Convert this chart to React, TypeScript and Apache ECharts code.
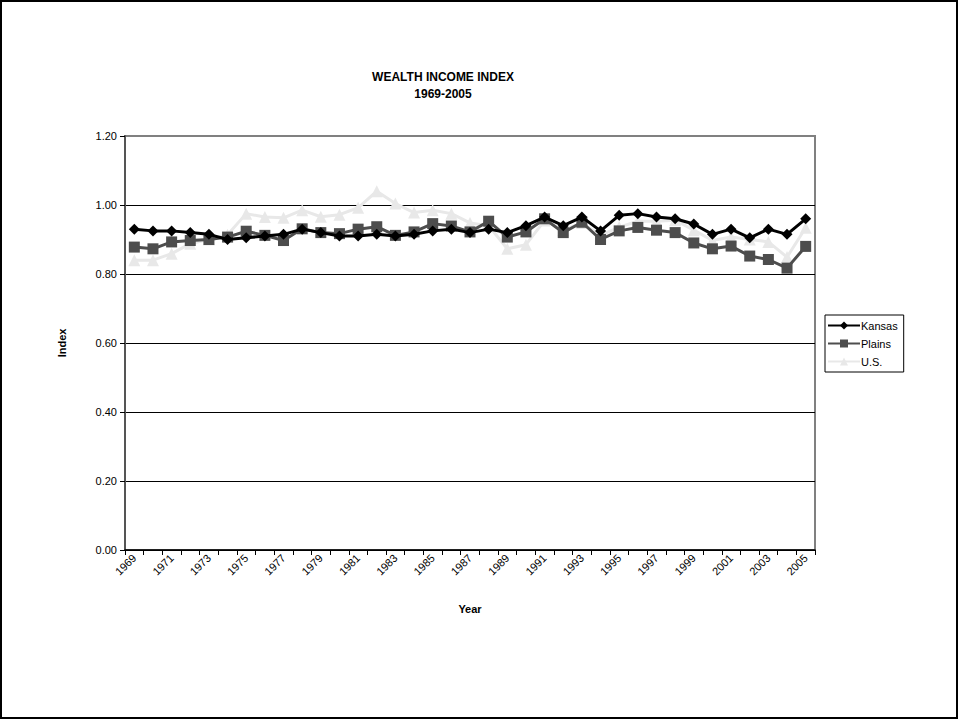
import React, { useEffect, useRef } from "react";
import * as echarts from "echarts";

const years = [
  "1969","1970","1971","1972","1973","1974","1975","1976","1977","1978",
  "1979","1980","1981","1982","1983","1984","1985","1986","1987","1988",
  "1989","1990","1991","1992","1993","1994","1995","1996","1997","1998",
  "1999","2000","2001","2002","2003","2004","2005",
];

const kansas = [
  0.93, 0.925, 0.925, 0.92, 0.915, 0.90, 0.905, 0.91, 0.915, 0.93,
  0.92, 0.91, 0.91, 0.915, 0.91, 0.915, 0.925, 0.93, 0.92, 0.93,
  0.92, 0.94, 0.965, 0.94, 0.965, 0.925, 0.97, 0.975, 0.965, 0.96,
  0.945, 0.915, 0.93, 0.905, 0.93, 0.915, 0.96,
];

const plains = [
  0.878, 0.873, 0.893, 0.897, 0.90, 0.907, 0.924, 0.912, 0.897, 0.931,
  0.92, 0.917, 0.93, 0.937, 0.912, 0.922, 0.946, 0.939, 0.922, 0.953,
  0.907, 0.922, 0.96, 0.92, 0.95, 0.90, 0.925, 0.935, 0.927, 0.92,
  0.89, 0.873, 0.881, 0.852, 0.842, 0.817, 0.88,
];

const us = [
  0.84, 0.84, 0.859, 0.888, 0.90, 0.914, 0.975, 0.965, 0.963, 0.985,
  0.966, 0.972, 0.992, 1.04, 1.004, 0.978, 0.985, 0.975, 0.948, 0.94,
  0.873, 0.885, 0.955, 0.927, 0.948, 0.912, 0.936, 0.953, 0.953, 0.956,
  0.927, 0.897, 0.907, 0.90, 0.893, 0.849, 0.934,
];

const FONT = 'Arial, "Liberation Sans", sans-serif';

export default function App() {
  const ref = useRef<HTMLDivElement>(null);
  useEffect(() => {
    document.body.style.margin = "0";
    const chart = echarts.init(ref.current!, null, { renderer: "svg" });
    const mk = (name: string, data: number[], color: string, symbol: string, size: number, z: number) => ({
      name,
      type: "line",
      data,
      symbol,
      symbolSize: size,
      z,
      lineStyle: { color, width: 3 },
      itemStyle: { color, borderWidth: 0 },
      emphasis: { disabled: true },
    });
    chart.setOption({
      animation: false,
      backgroundColor: "#fff",
      title: {
        text: "WEALTH INCOME INDEX\n1969-2005",
        left: 438,
        textAlign: "center",
        top: 63,
        textStyle: { fontFamily: FONT, fontSize: 12, fontWeight: "bold", color: "#000", lineHeight: 17 },
      },
      graphic: [
        {
          type: "rect",
          shape: { x: 1, y: 1, width: 956, height: 717 },
          style: { fill: "none", stroke: "#000", lineWidth: 2 },
          silent: true,
        },
      ],
      legend: {
        orient: "vertical",
        left: 825,
        top: 315,
        itemWidth: 32,
        itemHeight: 10,
        itemGap: 7,
        padding: [5, 6, 5, 2],
        borderColor: "#000",
        borderWidth: 1,
        borderRadius: 0,
        textStyle: { fontFamily: FONT, fontSize: 11, color: "#000", padding: [0, 0, 0, -4] },
        data: ["Kansas", "Plains", "U.S."],
      },
      grid: {
        left: 125,
        right: 145,
        top: 136,
        bottom: 171,
        show: true,
        borderColor: "#808080",
        borderWidth: 2,
      },
      xAxis: {
        type: "category",
        data: years,
        boundaryGap: true,
        name: "Year",
        nameLocation: "middle",
        nameGap: 53,
        nameTextStyle: { fontFamily: FONT, fontSize: 11, fontWeight: "bold", color: "#000" },
        axisLine: { lineStyle: { color: "#000", width: 1.5 } },
        axisTick: { show: true, interval: 0, length: 5, inside: false, lineStyle: { color: "#000" } },
        axisLabel: {
          interval: 1,
          rotate: 45,
          fontFamily: FONT,
          fontSize: 11,
          color: "#000",
          margin: 6,
        },
        splitLine: { show: false },
      },
      yAxis: {
        type: "value",
        min: 0,
        max: 1.2,
        interval: 0.2,
        name: "Index",
        nameLocation: "middle",
        nameGap: 58,
        nameRotate: 90,
        nameTextStyle: { fontFamily: FONT, fontSize: 11, fontWeight: "bold", color: "#000" },
        axisLine: { show: true, lineStyle: { color: "#555", width: 2 } },
        axisTick: { show: true, length: 5, lineStyle: { color: "#000" } },
        axisLabel: {
          formatter: (v: number) => v.toFixed(2),
          fontFamily: FONT,
          fontSize: 11,
          color: "#000",
          margin: 8,
        },
        splitLine: {
          show: true,
          lineStyle: { color: ["#000", "#000", "#000", "#000", "#000", "#000", "#808080"], width: 1 },
        },
      },
      series: [
        mk("U.S.", us, "#e8e8e8", "triangle", 12, 2),
        mk("Plains", plains, "#4d4d4d", "rect", 11, 3),
        mk("Kansas", kansas, "#000000", "diamond", 11, 4),
      ],
    });
    return () => chart.dispose();
  }, []);
  return (
    <div
      ref={ref}
      style={{ position: "absolute", left: 0, top: 0, width: 960, height: 721 }}
    />
  );
}
